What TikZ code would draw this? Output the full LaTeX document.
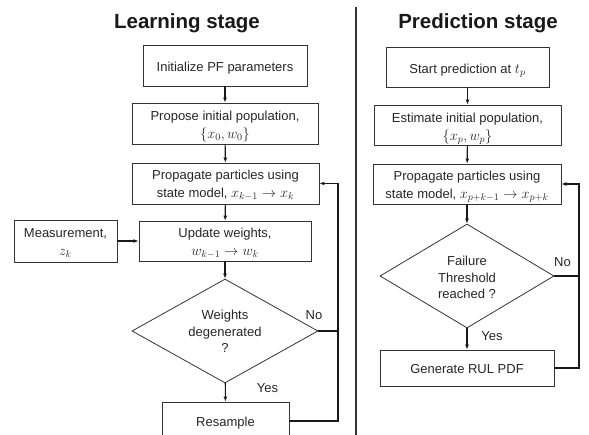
\RequirePackage{fix-cm}
\documentclass[tikz,border=0pt]{standalone}
\usepackage{fontspec}
\setmainfont{Liberation Sans}
\usetikzlibrary{shapes.geometric,arrows.meta,calc}
\newcommand{\lowtxt}[2][2.5pt]{\raisebox{-#1}[\height][\depth]{\begin{tabular}{@{}c@{}}#2\end{tabular}}}
\newcommand{\mth}[1]{{\fontsize{14.3}{18}\selectfont$#1$}}
\begin{document}
\begin{tikzpicture}[x=1pt,y=-1pt,
  font=\fontsize{13}{18}\selectfont,
  box/.style={draw=black!80, line width=0.8pt, rectangle, align=center, inner sep=0pt, text=black!85},
  dec/.style={draw=black!80, line width=0.8pt, diamond, align=center, inner sep=0pt, text=black!85},
  arr/.style={-{Latex[length=5pt,width=4pt]}, line width=1.1pt, draw=black!90},
  fb/.style={line width=1.6pt, draw=black!90},
  fbarr/.style={fb, -{Latex[length=5pt,width=4pt]}},
  ttl/.style={font=\fontsize{20.5}{24}\selectfont\bfseries, text=black!90, inner sep=0pt, anchor=base},
  lbl/.style={text=black!85, inner sep=0pt}]
\useasboundingbox (0,0) rectangle (589,435);

% titles and divider
\node[ttl] (tL) at (187,29) {Learning stage};
\node[ttl] (tR) at (478,29) {Prediction stage};
\coordinate (dTop) at (356,7);
\coordinate (dBot) at (356,440);
\draw[line width=2pt, black!80] (dTop) -- (dBot);

% learning stage
\node[box, minimum width=164pt, minimum height=41pt] (init) at (225,65.5) {\lowtxt{Initialize PF parameters}};
\node[box, minimum width=186pt, minimum height=41pt] (prop0) at (225,123.5) {\lowtxt[2.5pt]{Propose initial population,\\ \mth{\{x_0,w_0\}}}};
\node[box, minimum width=187pt, minimum height=41pt] (propL) at (225.5,183.5) {\lowtxt[1.5pt]{Propagate particles using\\ state model, \mth{x_{k-1}\rightarrow x_k}}};
\node[box, minimum width=172pt, minimum height=40pt] (upd) at (225,241) {\lowtxt[1.5pt]{Update weights,\\ \mth{w_{k-1}\rightarrow w_k}}};
\node[box, minimum width=103pt, minimum height=42pt] (meas) at (65.5,241) {\lowtxt[1.5pt]{Measurement,\\ \mth{z_k}}};
\node[dec, aspect=1.79, minimum width=186pt, minimum height=104pt] (diamL) at (225,331) {\lowtxt[1.5pt]{\rule{0pt}{11pt}Weights\\[-1.5pt] degenerated\\[-1.5pt] ?}};
\node[box, minimum width=127pt, minimum height=38pt] (res) at (225.5,421) {\lowtxt[1.5pt]{Resample}};
\coordinate (fbL) at (338,183.5);

\draw[arr] (init) -- (prop0);
\draw[arr] (prop0) -- (propL);
\draw[arr] (propL) -- (upd);
\draw[arr] (meas) -- (upd);
\draw[arr] (upd) -- (diamL);
\draw[arr] (diamL) -- (res);
\draw[fbarr] (res.east) -| (fbL) -- (propL.east);
\draw[fb] (diamL.east) -- (diamL.east -| fbL);
\node[lbl] (noL) at (314,315) {No};
\node[lbl] (yesL) at (267.5,388) {Yes};

% prediction stage
\node[box, minimum width=163pt, minimum height=40pt] (start) at (467.5,67) {\lowtxt{Start prediction at \mth{t_p}}};
\node[box, minimum width=187pt, minimum height=40pt] (est) at (467.5,125) {\lowtxt[2.5pt]{Estimate initial population,\\ \mth{\{x_p,w_p\}}}};
\node[box, minimum width=188pt, minimum height=40pt] (propR) at (467,184) {\lowtxt[1.5pt]{Propagate particles using\\ state model, \mth{x_{p+k-1}\rightarrow x_{p+k}}}};
\node[dec, aspect=1.67, minimum width=174pt, minimum height=104pt] (diamR) at (467,276) {\lowtxt[2.5pt]{Failure\\[-1.5pt] Threshold\\[-1.5pt] reached ?}};
\node[box, minimum width=174pt, minimum height=36pt] (gen) at (467,368) {\lowtxt[1.5pt]{Generate RUL PDF}};
\coordinate (fbR) at (579,184);

\draw[arr] (start) -- (est);
\draw[arr] (est) -- (propR);
\draw[arr] (propR) -- (diamR);
\draw[arr] (diamR) -- (gen);
\draw[fbarr] (gen.east) -| (fbR) -- (propR.east);
\draw[fb] (diamR.east) -- (diamR.east -| fbR);
\node[lbl] (noR) at (562.5,262) {No};
\node[lbl] (yesR) at (492,336) {Yes};
\end{tikzpicture}
\end{document}
